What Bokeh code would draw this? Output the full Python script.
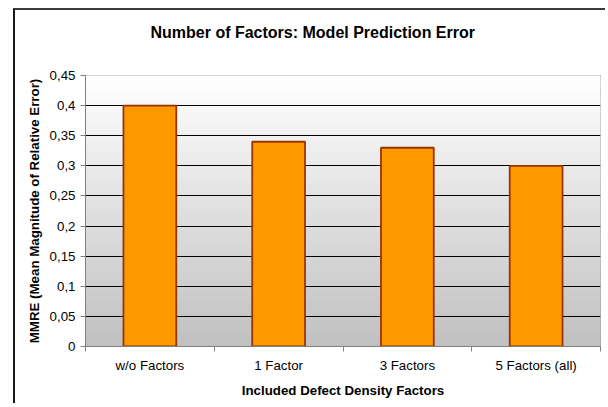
import numpy as np
from bokeh.plotting import figure
from bokeh.models import FixedTicker, Range1d, Title
from bokeh.embed import file_html
from bokeh.resources import INLINE

categories = ["w/o Factors", "1 Factor", "3 Factors", "5 Factors (all)"]
mmre = [0.40, 0.34, 0.33, 0.30]
y_ticks = [0, 0.05, 0.1, 0.15, 0.2, 0.25, 0.3, 0.35, 0.4, 0.45]
y_tick_labels = ["0", "0,05", "0,1", "0,15", "0,2", "0,25", "0,3", "0,35", "0,4", "0,45"]

FONT = "Liberation Sans"
n_cat = len(categories)
centers = [i + 0.5 for i in range(n_cat)]

p = figure(width=592, height=395, output_backend="svg", toolbar_location=None,
           x_range=Range1d(0, n_cat), y_range=Range1d(y_ticks[0], y_ticks[-1]),
           min_border_left=70, min_border_right=7, min_border_top=65, min_border_bottom=59,
           styles={"margin-left": "13px", "margin-top": "8px",
                   "border-left": "2px solid #1a1a1a",
                   "border-top": "2px solid #3a3a3a"})

# gradient background (white at top to grey at bottom)
nb = 90
edges = np.linspace(y_ticks[0], y_ticks[-1], nb + 1)
cols = []
for i in range(nb):
    t = (i + 0.5) / nb
    v = int(round(192 + (255 - 192) * t))
    cols.append("#%02x%02x%02x" % (v, v, v))
p.quad(left=0, right=n_cat, bottom=edges[:-1], top=edges[1:], fill_color=cols,
       line_color=cols, line_width=1, level="image")

p.vbar(x=centers, top=mmre, width=0.41, fill_color="#FF9900", line_color="#993300",
       line_width=1.8)

p.outline_line_color = "#808080"
p.outline_line_width = 1
p.background_fill_color = "white"

p.xgrid.visible = False
p.ygrid.ticker = FixedTicker(ticks=y_ticks)
p.ygrid.grid_line_color = "black"
p.ygrid.grid_line_width = 1

yax = p.yaxis[0]
yax.ticker = FixedTicker(ticks=y_ticks)
yax.major_label_overrides = {t: l for t, l in zip(y_ticks, y_tick_labels)}
yax.axis_line_color = "#808080"
yax.major_tick_line_color = "#808080"
yax.major_tick_out = 5
yax.major_tick_in = 0
yax.minor_tick_line_color = None
yax.major_label_text_font = FONT
yax.major_label_text_font_size = "13.3px"
yax.major_label_text_color = "black"
yax.major_label_standoff = 5
yax.axis_label = "MMRE (Mean Magnitude of Relative Error)"
yax.axis_label_text_font = FONT
yax.axis_label_text_font_size = "13.3px"
yax.axis_label_text_font_style = "bold"
yax.axis_label_text_color = "black"
yax.axis_label_standoff = 5

xax = p.xaxis[0]
xax.ticker = FixedTicker(ticks=centers, minor_ticks=list(range(n_cat + 1)))
xax.major_label_overrides = {c: l for c, l in zip(centers, categories)}
xax.axis_line_color = "#808080"
xax.major_tick_out = 0
xax.major_tick_in = 0
xax.minor_tick_out = 5
xax.minor_tick_in = 0
xax.minor_tick_line_color = "#808080"
xax.major_label_text_font = FONT
xax.major_label_text_font_size = "13.3px"
xax.major_label_text_color = "black"
xax.major_label_standoff = 6
xax.axis_label = "Included Defect Density Factors"
xax.axis_label_text_font = FONT
xax.axis_label_text_font_size = "13.3px"
xax.axis_label_text_font_style = "bold"
xax.axis_label_text_color = "black"
xax.axis_label_standoff = 7

# spacer between the title and the plot area
spacer = Title(text=" ", text_font=FONT, text_font_size="16px", standoff=5)
p.add_layout(spacer, "above")

p.title.text = "Number of Factors: Model Prediction Error"
p.title.text_font = FONT
p.title.text_font_size = "16px"
p.title.text_font_style = "bold"
p.title.text_color = "black"
p.title.align = "left"
p.title.offset = 65
p.title.standoff = 22

open("out.html", "w").write(file_html(p, INLINE))
